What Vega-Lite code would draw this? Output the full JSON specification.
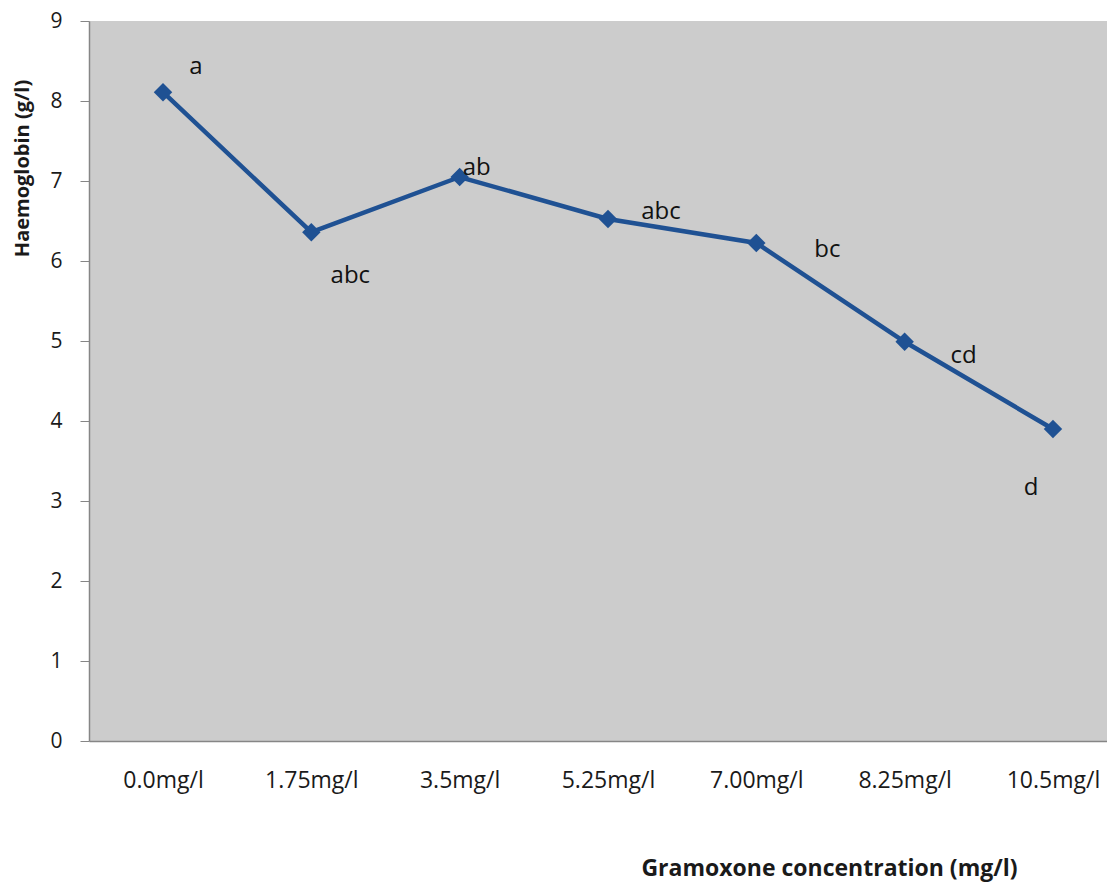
{
  "$schema": "https://vega.github.io/schema/vega-lite/v6.json",
  "autosize": {"type": "none"},
  "padding": {"left": 89, "top": 21, "right": 0, "bottom": 141},
  "width": 1018,
  "height": 720,
  "background": "white",
  "config": {
    "font": "Open Sans",
    "view": {"fill": "#CCCCCC", "stroke": null}
  },
  "data": {
    "values": [
      {"conc": "0.0mg/l", "hb": 8.11, "sig": "a"},
      {"conc": "1.75mg/l", "hb": 6.36, "sig": "abc"},
      {"conc": "3.5mg/l", "hb": 7.05, "sig": "ab"},
      {"conc": "5.25mg/l", "hb": 6.525, "sig": "abc"},
      {"conc": "7.00mg/l", "hb": 6.225, "sig": "bc"},
      {"conc": "8.25mg/l", "hb": 4.99, "sig": "cd"},
      {"conc": "10.5mg/l", "hb": 3.9, "sig": "d"}
    ]
  },
  "encoding": {
    "x": {
      "field": "conc", "type": "nominal", "sort": null,
      "scale": {"type": "point", "padding": 0.4316, "align": 0.578},
      "axis": {
        "title": "Gramoxone concentration (mg/l)",
        "labelAngle": 0, "labelFontSize": 23, "labelColor": "#1a1a1a", "labelPadding": 28,
        "ticks": false, "domainColor": "#868686", "domainWidth": 1.5,
        "titleFontSize": 23, "titleFontWeight": "bold", "titleColor": "#1a1a1a",
        "titleX": 740, "titleY": 127, "titleAlign": "center", "titleBaseline": "middle",
        "titleAnchor": null, "grid": false
      }
    },
    "y": {
      "field": "hb", "type": "quantitative",
      "scale": {"domain": [0, 9], "nice": false},
      "axis": {
        "title": "Haemoglobin (g/l)",
        "values": [0, 1, 2, 3, 4, 5, 6, 7, 8, 9],
        "labelFontSize": 21, "labelColor": "#1a1a1a", "labelPadding": 18,
        "tickSize": 9, "tickColor": "#868686", "domainColor": "#868686", "domainWidth": 1.5,
        "titleFontSize": 20, "titleFontWeight": "bold", "titleColor": "#1a1a1a",
        "titleX": -67, "titleY": 147, "titleAngle": -90, "titleAlign": "center", "titleBaseline": "middle",
        "grid": false
      }
    }
  },
  "layer": [
    {"mark": {"type": "line", "color": "#1F5193", "strokeWidth": 4.5}},
    {"mark": {"type": "point", "shape": "diamond", "filled": true, "color": "#1F5193", "size": 340, "opacity": 1}},
    {"transform": [{"filter": "datum.conc == '0.0mg/l'"}], "mark": {"type": "text", "fontSize": 24, "dx": 33, "dy": -18, "baseline": "alphabetic", "align": "center", "color": "#111"}, "encoding": {"text": {"field": "sig"}}},
    {"transform": [{"filter": "datum.conc == '1.75mg/l'"}], "mark": {"type": "text", "fontSize": 24, "dx": 39, "dy": 51, "baseline": "alphabetic", "align": "center", "color": "#111"}, "encoding": {"text": {"field": "sig"}}},
    {"transform": [{"filter": "datum.conc == '3.5mg/l'"}], "mark": {"type": "text", "fontSize": 24, "dx": 17, "dy": -2, "baseline": "alphabetic", "align": "center", "color": "#111"}, "encoding": {"text": {"field": "sig"}}},
    {"transform": [{"filter": "datum.conc == '5.25mg/l'"}], "mark": {"type": "text", "fontSize": 24, "dx": 53, "dy": 0, "baseline": "alphabetic", "align": "center", "color": "#111"}, "encoding": {"text": {"field": "sig"}}},
    {"transform": [{"filter": "datum.conc == '7.00mg/l'"}], "mark": {"type": "text", "fontSize": 24, "dx": 71, "dy": 14, "baseline": "alphabetic", "align": "center", "color": "#111"}, "encoding": {"text": {"field": "sig"}}},
    {"transform": [{"filter": "datum.conc == '8.25mg/l'"}], "mark": {"type": "text", "fontSize": 24, "dx": 59, "dy": 21, "baseline": "alphabetic", "align": "center", "color": "#111"}, "encoding": {"text": {"field": "sig"}}},
    {"transform": [{"filter": "datum.conc == '10.5mg/l'"}], "mark": {"type": "text", "fontSize": 24, "dx": -22, "dy": 66, "baseline": "alphabetic", "align": "center", "color": "#111"}, "encoding": {"text": {"field": "sig"}}}
  ]
}
